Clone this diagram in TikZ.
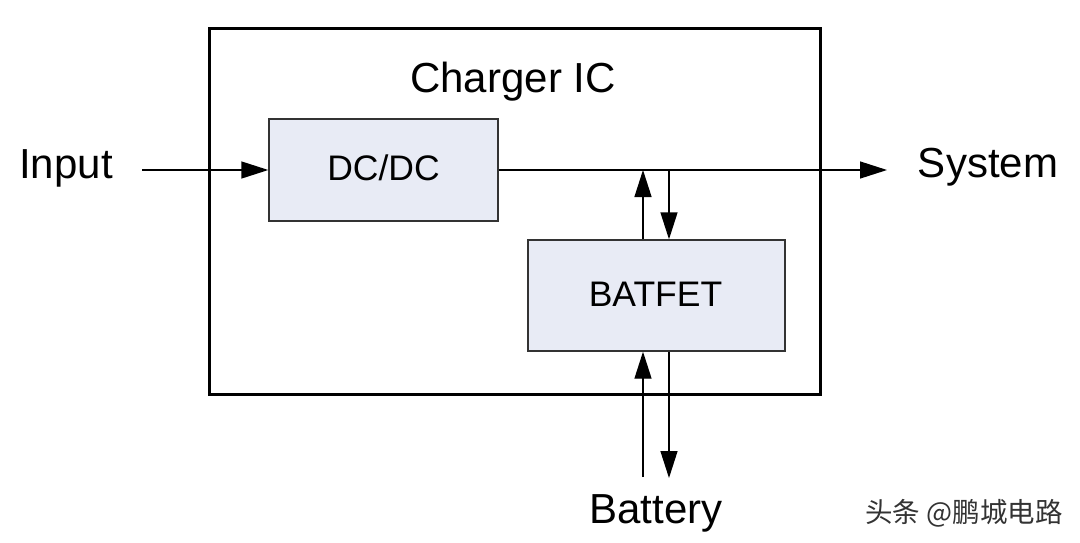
\documentclass[tikz,border=0pt]{standalone}
\usepackage{fontspec}
\setmainfont{Liberation Sans}
\newfontfamily\cjk{Noto Sans CJK SC}
\usetikzlibrary{arrows.meta}
\definecolor{boxfill}{HTML}{E8EBF5}
\definecolor{boxline}{HTML}{333333}
\begin{document}
\begin{tikzpicture}[x=1pt,y=-1pt,
  blockbox/.style={draw=boxline,line width=1.4pt,fill=boxfill,rectangle,inner sep=0pt},
  bigtext/.style={font=\fontsize{42}{42}\selectfont,anchor=base,inner sep=0pt},
  midtext/.style={font=\fontsize{35.5}{35.5}\selectfont,anchor=base,inner sep=0pt},
  conn/.style={line width=1.4pt,-{Triangle[length=27pt,width=17pt]}},
  wire/.style={line width=1.4pt}]
\useasboundingbox (0,0) rectangle (1080,542);
\fill[white] (0,0) rectangle (1080,542);
% outer chip box
\node[draw=black,line width=3pt,rectangle,inner sep=0pt,minimum width=611pt,minimum height=366pt] (chip) at (514.5,211) {};
\node[bigtext] (title) at (513,92) {Charger IC};
% blocks
\node[blockbox,minimum width=229pt,minimum height=102pt] (dcdc) at (383.5,170) {};
\node[midtext] (dclabel) at (383.5,180) {DC/DC};
\node[blockbox,minimum width=257pt,minimum height=111pt] (batfet) at (656.5,295.5) {};
\node[midtext] (batlabel) at (655.5,306) {BATFET};
% outside labels
\node[bigtext] (input) at (66,178) {Input};
\node[bigtext] (system) at (988,177) {System};
\node[bigtext] (battery) at (656,523) {Battery};
\node[font=\cjk\fontsize{27.5}{27.5}\selectfont,text=black!80,inner sep=0pt] (wm) at (964,513) {头条 @鹏城电路};
% coordinates
\coordinate (inStart) at (142,170);
\coordinate (sysEnd) at (887,170);
\coordinate (upTop) at (643,170);
\coordinate (downTop) at (669,170);
\coordinate (upBot) at (643,477);
\coordinate (downBot) at (669,478);
% connectors
\draw[conn] (inStart) -- (dcdc.west);
\draw[conn] (dcdc.east) -- (sysEnd);
\draw[conn] (batfet.north -| upTop) -- (upTop);
\draw[conn] (downTop) -- (batfet.north -| downTop);
\draw[conn] (upBot) -- (batfet.south -| upBot);
\draw[conn] (batfet.south -| downBot) -- (downBot);
\end{tikzpicture}
\end{document}
